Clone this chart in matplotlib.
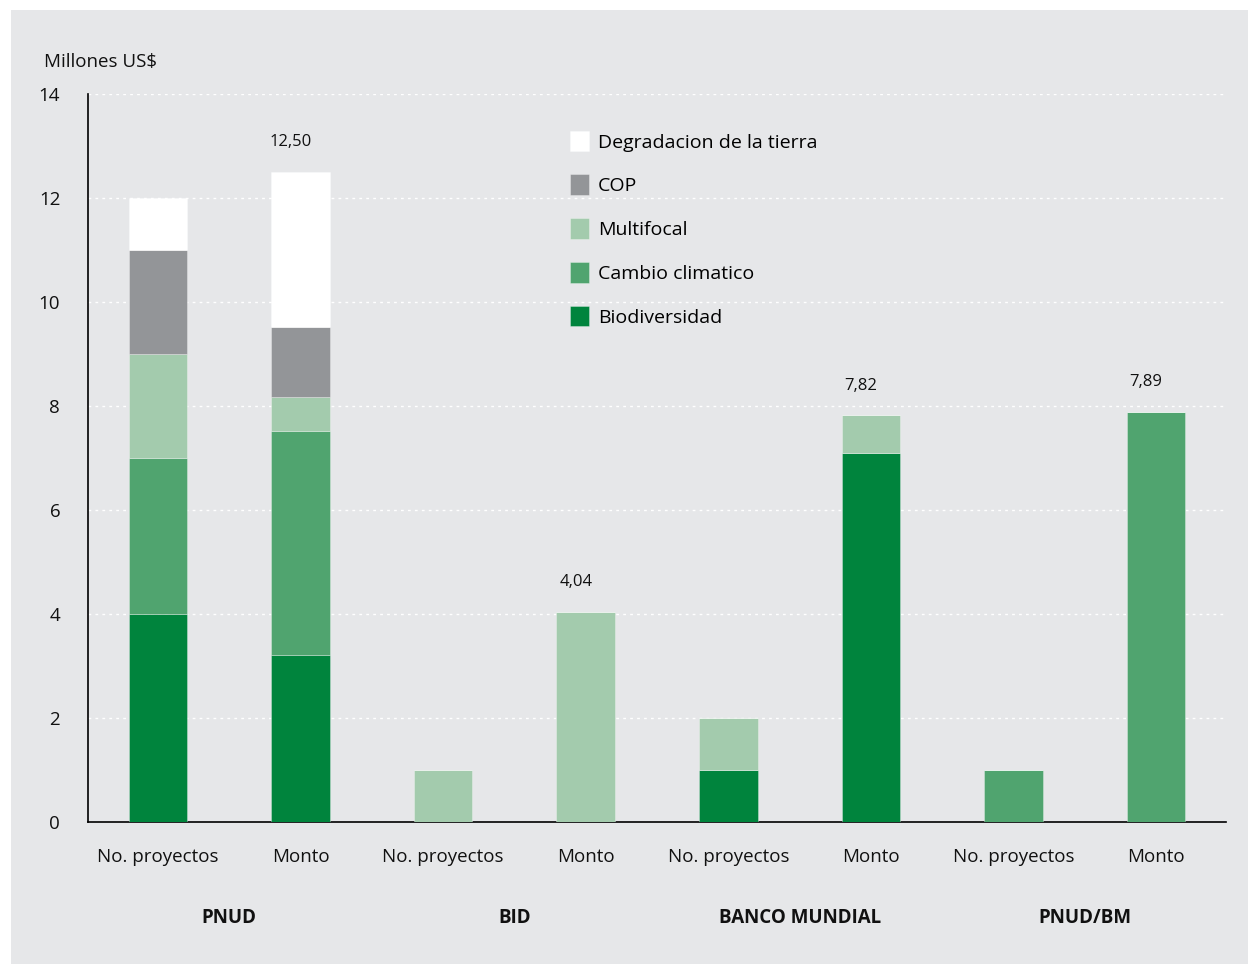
import matplotlib
matplotlib.use("Agg")
import matplotlib.pyplot as plt
from matplotlib.patches import Rectangle
import numpy as np

plt.rcParams['font.family'] = ['Open Sans', 'DejaVu Sans']

tick_labels = ["No. proyectos", "Monto"] * 4
groups = ["PNUD", "BID", "BANCO MUNDIAL", "PNUD/BM"]
series = ["Biodiversidad", "Cambio climatico", "Multifocal", "COP", "Degradacion de la tierra"]
colors = ["#00843d", "#50a46f", "#a3cbad", "#939598", "#ffffff"]

biodiversidad = [4, 3.21, 0, 0, 1, 7.10, 0, 0]
cambio = [3, 4.31, 0, 0, 0, 0, 1, 7.89]
multifocal = [2, 0.65, 1, 4.04, 1, 0.72, 0, 0]
cop = [2, 1.35, 0, 0, 0, 0, 0, 0]
degradacion = [1, 2.98, 0, 0, 0, 0, 0, 0]
totals = {1: "12,50", 3: "4,04", 5: "7,82", 7: "7,89"}

data = [biodiversidad, cambio, multifocal, cop, degradacion]

bg = "#e6e7e9"
fig = plt.figure(figsize=(12.48, 9.64), dpi=100)
fig.patch.set_facecolor("white")
fig.patches.append(Rectangle((11/1248, 0), 1 - 11/1248, 1 - 10/964, transform=fig.transFigure,
                             facecolor=bg, edgecolor="none", zorder=-10))

ax = fig.add_axes([88/1248, 1 - 822/964, (1226-88)/1248, (822-94)/964])
ax.set_facecolor(bg)
ax.patch.set_alpha(0)

x = np.arange(len(tick_labels))
bottom = np.zeros(len(x))
for name, vals, c in zip(series, data, colors):
    vals = np.array(vals, dtype=float)
    ax.bar(x, vals, width=0.41, bottom=bottom, color=c, label=name, zorder=3,
           edgecolor=(1, 1, 1, 0.35), linewidth=0.6)
    bottom += vals

for i, lab in totals.items():
    ax.text(x[i] - 0.07, bottom[i] + 0.42, lab, ha="center", va="bottom", fontsize=12, color="#111111")

ax.set_xlim(-0.49, 7.49)
ax.set_ylim(0, 14)
ax.set_yticks(range(0, 15, 2))
ax.yaxis.grid(True, color="white", linestyle=(0, (2, 3)), linewidth=1.0)
ax.set_axisbelow(True)
for s in ["top", "right"]:
    ax.spines[s].set_visible(False)
ax.spines["left"].set_color("black")
ax.spines["bottom"].set_color("black")
ax.spines["left"].set_linewidth(1.2)
ax.spines["bottom"].set_linewidth(1.2)
ax.tick_params(axis="both", length=0, labelsize=13.5, colors="#111111")
ax.tick_params(axis="y", pad=20)
ax.tick_params(axis="x", pad=19)
ax.set_xticks(x)
ax.set_xticklabels(tick_labels)

for g, name in enumerate(groups):
    ax.text((x[2*g] + x[2*g+1]) / 2, -1.85, name, ha="center", va="center",
            fontsize=13.5, fontweight="bold", color="#111111")

fig.text(44/1248, 1 - 62/964, "Millones US$", ha="left", va="center", fontsize=13.5, color="#111111")

handles, labels = ax.get_legend_handles_labels()
leg = ax.legend(handles[::-1], labels[::-1], loc="upper left",
                bbox_to_anchor=((560-88)/(1226-88), (822-121)/(822-94)),
                frameon=False, fontsize=14, handlelength=1.0, handleheight=1.25,
                handletextpad=0.45, labelspacing=1.18, borderpad=0)

fig.savefig("out.png", dpi=100, facecolor=fig.get_facecolor())
